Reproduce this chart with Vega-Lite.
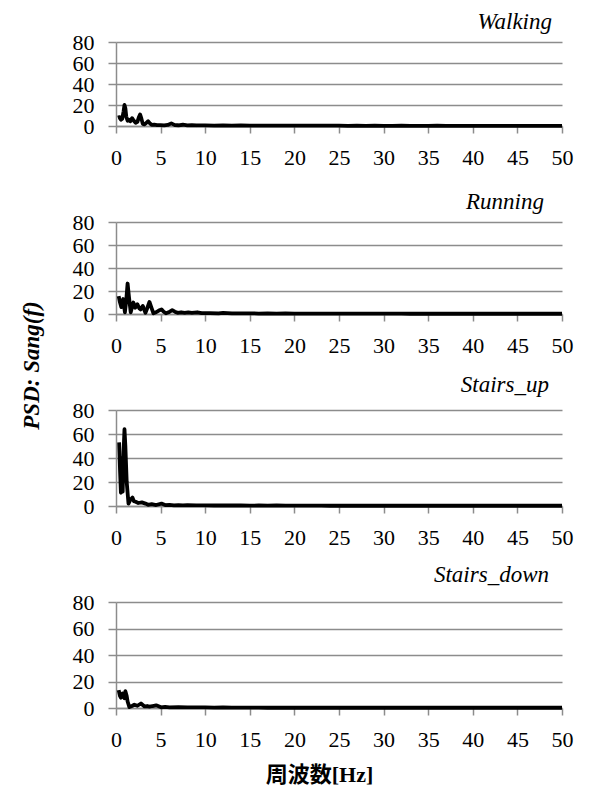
{
  "$schema": "https://vega.github.io/schema/vega-lite/v6.json",
  "padding": {"left": 20, "top": 11, "right": 5, "bottom": 5},
  "background": "white",
  "datasets": {
    "walking": [
      {"f":0.2,"v":8},{"f":0.4,"v":8.5},{"f":0.55,"v":6},{"f":0.7,"v":7},{"f":0.85,"v":14},{"f":0.95,"v":20},{"f":1.05,"v":17},{"f":1.15,"v":9},{"f":1.3,"v":5},{"f":1.45,"v":6},{"f":1.6,"v":4.5},{"f":1.8,"v":7.5},{"f":2.0,"v":5},{"f":2.2,"v":3},{"f":2.4,"v":4},{"f":2.55,"v":8},{"f":2.7,"v":11},{"f":2.85,"v":7},{"f":3.0,"v":2},{"f":3.2,"v":1.5},{"f":3.4,"v":3},{"f":3.6,"v":4.5},{"f":3.8,"v":2.5},{"f":4.0,"v":1},{"f":4.3,"v":1.2},{"f":4.6,"v":0.8},{"f":5.0,"v":0.8},{"f":5.4,"v":0.6},{"f":5.8,"v":1},{"f":6.2,"v":2.5},{"f":6.6,"v":0.8},{"f":7.0,"v":0.7},{"f":7.5,"v":1.2},{"f":8.0,"v":0.6},{"f":8.5,"v":0.8},{"f":9.0,"v":0.5},{"f":10,"v":0.6},{"f":11,"v":0.4},{"f":12,"v":0.5},{"f":13,"v":0.4},{"f":14,"v":0.5},{"f":15,"v":0.3},{"f":16,"v":0.4},{"f":17,"v":0.3},{"f":18,"v":0.4},{"f":19,"v":0.3},{"f":20,"v":0.4},{"f":21,"v":0.3},{"f":22,"v":0.3},{"f":23,"v":0.4},{"f":24,"v":0.3},{"f":25,"v":0.3},{"f":26,"v":0.2},{"f":27,"v":0.3},{"f":28,"v":0.2},{"f":29,"v":0.3},{"f":30,"v":0.2},{"f":31,"v":0.2},{"f":32,"v":0.3},{"f":33,"v":0.2},{"f":34,"v":0.2},{"f":35,"v":0.2},{"f":36,"v":0.3},{"f":37,"v":0.2},{"f":38,"v":0.2},{"f":39,"v":0.2},{"f":40,"v":0.2},{"f":41,"v":0.2},{"f":42,"v":0.2},{"f":43,"v":0.2},{"f":44,"v":0.2},{"f":45,"v":0.2},{"f":46,"v":0.2},{"f":47,"v":0.2},{"f":48,"v":0.2},{"f":49,"v":0.2},{"f":50,"v":0.2}
    ],
    "running": [
      {"f":0.3,"v":15.6},{"f":0.45,"v":10},{"f":0.6,"v":6},{"f":0.8,"v":13},{"f":1.0,"v":1.5},{"f":1.15,"v":12},{"f":1.3,"v":26.5},{"f":1.45,"v":15},{"f":1.65,"v":1.5},{"f":1.8,"v":6},{"f":1.95,"v":10},{"f":2.15,"v":5.5},{"f":2.4,"v":8.5},{"f":2.6,"v":5},{"f":2.75,"v":4},{"f":3.0,"v":7},{"f":3.15,"v":4},{"f":3.3,"v":1},{"f":3.5,"v":5},{"f":3.75,"v":10.5},{"f":3.95,"v":6},{"f":4.2,"v":0.6},{"f":4.5,"v":1.5},{"f":4.8,"v":3},{"f":5.1,"v":4},{"f":5.35,"v":2},{"f":5.6,"v":0.6},{"f":5.9,"v":1.5},{"f":6.3,"v":3.3},{"f":6.6,"v":2},{"f":6.9,"v":1},{"f":7.3,"v":1.5},{"f":7.7,"v":1},{"f":8.1,"v":1.4},{"f":8.5,"v":1},{"f":9.1,"v":1.5},{"f":9.6,"v":0.7},{"f":10.5,"v":0.8},{"f":11.5,"v":0.6},{"f":12,"v":1},{"f":13,"v":0.6},{"f":14,"v":0.5},{"f":15,"v":0.6},{"f":16,"v":0.4},{"f":17,"v":0.5},{"f":18,"v":0.4},{"f":19,"v":0.5},{"f":20,"v":0.4},{"f":21,"v":0.4},{"f":22,"v":0.3},{"f":23,"v":0.4},{"f":24,"v":0.3},{"f":25,"v":0.4},{"f":26,"v":0.3},{"f":27,"v":0.3},{"f":28,"v":0.3},{"f":29,"v":0.3},{"f":30,"v":0.3},{"f":31,"v":0.3},{"f":32,"v":0.3},{"f":33,"v":0.2},{"f":34,"v":0.3},{"f":35,"v":0.2},{"f":36,"v":0.2},{"f":37,"v":0.2},{"f":38,"v":0.2},{"f":39,"v":0.2},{"f":40,"v":0.2},{"f":41,"v":0.2},{"f":42,"v":0.2},{"f":43,"v":0.2},{"f":44,"v":0.2},{"f":45,"v":0.2},{"f":46,"v":0.2},{"f":47,"v":0.2},{"f":48,"v":0.2},{"f":49,"v":0.2},{"f":50,"v":0.2}
    ],
    "stairs_up": [
      {"f":0.35,"v":53},{"f":0.45,"v":30},{"f":0.55,"v":11},{"f":0.65,"v":40},{"f":0.75,"v":12},{"f":0.85,"v":45},{"f":0.95,"v":64},{"f":1.05,"v":50},{"f":1.2,"v":20},{"f":1.4,"v":2},{"f":1.6,"v":5},{"f":1.85,"v":7},{"f":2.0,"v":4},{"f":2.2,"v":3.5},{"f":2.5,"v":2.5},{"f":2.9,"v":3},{"f":3.3,"v":2},{"f":3.6,"v":1},{"f":4.0,"v":1.5},{"f":4.5,"v":0.8},{"f":5.1,"v":2},{"f":5.5,"v":0.8},{"f":6.0,"v":1},{"f":6.5,"v":0.6},{"f":7.0,"v":0.8},{"f":7.5,"v":0.5},{"f":8.0,"v":0.7},{"f":9.0,"v":0.5},{"f":10,"v":0.6},{"f":11,"v":0.4},{"f":12,"v":0.5},{"f":13,"v":0.4},{"f":14,"v":0.4},{"f":15,"v":0.3},{"f":16,"v":0.4},{"f":17,"v":0.3},{"f":18,"v":0.4},{"f":19,"v":0.3},{"f":20,"v":0.3},{"f":21,"v":0.3},{"f":22,"v":0.3},{"f":23,"v":0.3},{"f":24,"v":0.2},{"f":25,"v":0.3},{"f":26,"v":0.2},{"f":27,"v":0.3},{"f":28,"v":0.2},{"f":29,"v":0.2},{"f":30,"v":0.2},{"f":31,"v":0.2},{"f":32,"v":0.2},{"f":33,"v":0.2},{"f":34,"v":0.2},{"f":35,"v":0.2},{"f":36,"v":0.2},{"f":37,"v":0.2},{"f":38,"v":0.2},{"f":39,"v":0.2},{"f":40,"v":0.2},{"f":41,"v":0.2},{"f":42,"v":0.2},{"f":43,"v":0.2},{"f":44,"v":0.2},{"f":45,"v":0.2},{"f":46,"v":0.2},{"f":47,"v":0.2},{"f":48,"v":0.2},{"f":49,"v":0.2},{"f":50,"v":0.2}
    ],
    "stairs_down": [
      {"f":0.3,"v":13.5},{"f":0.45,"v":9},{"f":0.56,"v":7.8},{"f":0.75,"v":11},{"f":0.94,"v":7.4},{"f":1.05,"v":12.7},{"f":1.2,"v":9},{"f":1.3,"v":4.9},{"f":1.5,"v":0.7},{"f":1.8,"v":1.5},{"f":2.06,"v":2.5},{"f":2.4,"v":1.7},{"f":2.8,"v":3.4},{"f":3.2,"v":1.2},{"f":3.5,"v":1.5},{"f":3.75,"v":1},{"f":4.1,"v":1.5},{"f":4.5,"v":2},{"f":5.05,"v":0.5},{"f":5.5,"v":0.8},{"f":6.0,"v":0.5},{"f":7.0,"v":0.6},{"f":8.0,"v":0.4},{"f":9.0,"v":0.5},{"f":10,"v":0.4},{"f":11,"v":0.3},{"f":12,"v":0.4},{"f":13,"v":0.3},{"f":14,"v":0.3},{"f":15,"v":0.3},{"f":16,"v":0.3},{"f":17,"v":0.2},{"f":18,"v":0.3},{"f":19,"v":0.2},{"f":20,"v":0.2},{"f":21,"v":0.2},{"f":22,"v":0.2},{"f":23,"v":0.2},{"f":24,"v":0.2},{"f":25,"v":0.2},{"f":26,"v":0.2},{"f":27,"v":0.2},{"f":28,"v":0.2},{"f":29,"v":0.2},{"f":30,"v":0.2},{"f":31,"v":0.2},{"f":32,"v":0.2},{"f":33,"v":0.2},{"f":34,"v":0.2},{"f":35,"v":0.2},{"f":36,"v":0.2},{"f":37,"v":0.2},{"f":38,"v":0.2},{"f":39,"v":0.2},{"f":40,"v":0.2},{"f":41,"v":0.2},{"f":42,"v":0.2},{"f":43,"v":0.2},{"f":44,"v":0.2},{"f":45,"v":0.2},{"f":46,"v":0.2},{"f":47,"v":0.2},{"f":48,"v":0.2},{"f":49,"v":0.2},{"f":50,"v":0.2}
    ]
  },
  "vconcat": [
    {
      "width": 446, "height": 84,
      "title": {"text": "Walking", "dx": -10, "offset": -3},
      "data": {"name": "walking"},
      "mark": {"type": "line", "color": "black", "strokeWidth": 3.8, "strokeJoin": "round"},
      "encoding": {
        "x": {"field": "f", "type": "quantitative", "scale": {"domain": [0, 50]}, "axis": {"title": null}},
        "y": {"field": "v", "type": "quantitative", "scale": {"domain": [0, 80]}, "axis": {"title": null}}
      }
    },
    {
      "width": 446, "height": 92,
      "title": {"text": "Running", "dx": -18, "offset": -3},
      "data": {"name": "running"},
      "mark": {"type": "line", "color": "black", "strokeWidth": 3.8, "strokeJoin": "round"},
      "encoding": {
        "x": {"field": "f", "type": "quantitative", "scale": {"domain": [0, 50]}, "axis": {"title": null}},
        "y": {"field": "v", "type": "quantitative", "scale": {"domain": [0, 80]},
              "axis": {"title": "PSD: Sang(f)", "titleX": -85, "titleY": 143, "titleBaseline": "middle", "titleFont": "Times New Roman, Liberation Serif, serif", "titleFontStyle": "italic", "titleFontWeight": "bold", "titleFontSize": 23, "titleColor": "black"}}
      }
    },
    {
      "width": 446, "height": 96,
      "title": {"text": "Stairs_up", "dx": -13, "offset": 2},
      "data": {"name": "stairs_up"},
      "mark": {"type": "line", "color": "black", "strokeWidth": 3.8, "strokeJoin": "round"},
      "encoding": {
        "x": {"field": "f", "type": "quantitative", "scale": {"domain": [0, 50]}, "axis": {"title": null}},
        "y": {"field": "v", "type": "quantitative", "scale": {"domain": [0, 80]}, "axis": {"title": null}}
      }
    },
    {
      "width": 446, "height": 106,
      "title": {"text": "Stairs_down", "dx": -13, "offset": 4},
      "data": {"name": "stairs_down"},
      "mark": {"type": "line", "color": "black", "strokeWidth": 3.8, "strokeJoin": "round"},
      "encoding": {
        "x": {"field": "f", "type": "quantitative", "scale": {"domain": [0, 50]},
              "axis": {"title": "周波数[Hz]", "titleX": 203, "titleFont": "Times New Roman, Liberation Serif, Noto Sans CJK JP, serif", "titleFontWeight": "bold", "titleFontSize": 22, "titleColor": "black", "titlePadding": 14}},
        "y": {"field": "v", "type": "quantitative", "scale": {"domain": [0, 80]}, "axis": {"title": null}}
      }
    }
  ],
  "spacing": 96,
  "bounds": "flush",
  "config": {
    "view": {"stroke": null},
    "title": {"anchor": "end", "frame": "group", "baseline": "alphabetic", "font": "Times New Roman, Liberation Serif, serif", "fontStyle": "italic", "fontWeight": "normal", "fontSize": 23, "color": "black"},
    "axis": {
      "labelFont": "Times New Roman, Liberation Serif, serif", "labelFontSize": 22, "labelColor": "black",
      "domainColor": "#8c8c8c", "tickColor": "#8c8c8c", "gridColor": "#8c8c8c",
      "domainWidth": 1.5, "tickWidth": 1.5, "gridWidth": 1.5, "gridOpacity": 1,
      "labelFlush": false, "labelOverlap": false
    },
    "axisX": {"grid": false, "values": [0, 5, 10, 15, 20, 25, 30, 35, 40, 45, 50], "tickSize": 7, "labelPadding": 14},
    "axisY": {"grid": true, "values": [0, 20, 40, 60, 80], "tickSize": 8, "labelPadding": 14}
  }
}
